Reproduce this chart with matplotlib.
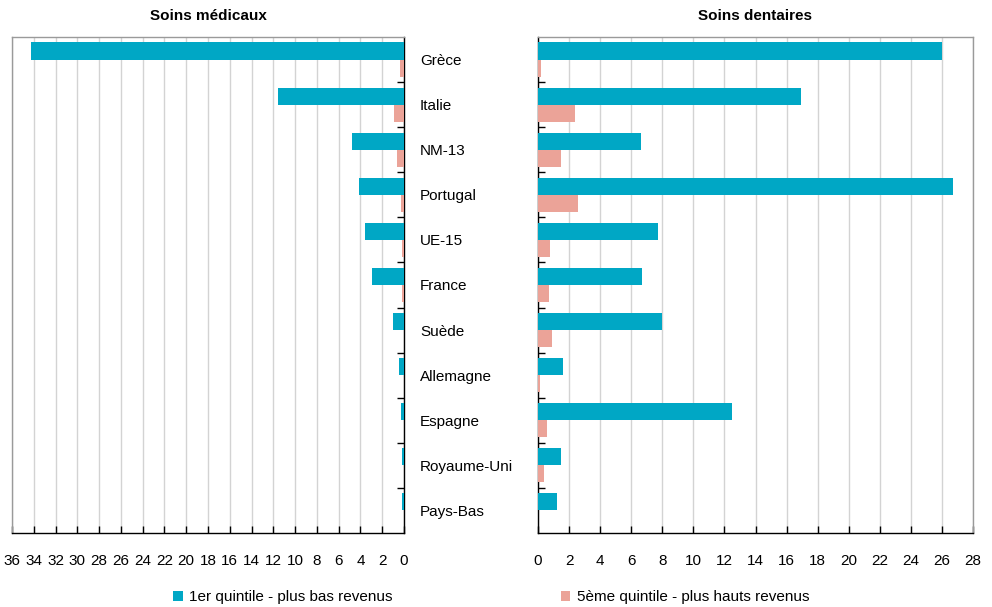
import matplotlib
matplotlib.use("Agg")
import matplotlib.pyplot as plt
from matplotlib.patches import Patch
import numpy as np

plt.rcParams['font.family'] = ['Liberation Sans', 'DejaVu Sans']

categories = ["Grèce", "Italie", "NM-13", "Portugal", "UE-15", "France",
              "Suède", "Allemagne", "Espagne", "Royaume-Uni", "Pays-Bas"]
medical_q1 = [34.3, 11.6, 4.8, 4.1, 3.6, 2.9, 1.0, 0.5, 0.3, 0.2, 0.2]
medical_q5 = [0.4, 0.9, 0.6, 0.3, 0.2, 0.2, 0.0, 0.0, 0.0, 0.0, 0.0]
dental_q1 = [26.0, 16.9, 6.6, 26.7, 7.7, 6.7, 8.0, 1.6, 12.5, 1.5, 1.2]
dental_q5 = [0.2, 2.4, 1.45, 2.6, 0.75, 0.7, 0.9, 0.1, 0.6, 0.4, 0.0]
left_ticks = list(range(0, 37, 2))
right_ticks = list(range(0, 29, 2))
titles = ["Soins médicaux", "Soins dentaires"]
legend_labels = ["1er quintile - plus bas revenus", "5ème quintile - plus hauts revenus"]

c1 = "#00A7C5"
c5 = "#EBA398"
grid_c = "#d3d3d3"
frame_gray = "#9a9a9a"
FS = 11

W, H = 992, 607
fig = plt.figure(figsize=(W / 100, H / 100), dpi=100)
ax1 = fig.add_axes([12 / W, 74 / H, (404 - 12) / W, 496 / H])
ax2 = fig.add_axes([538 / W, 74 / H, (973 - 538) / W, 496 / H])

y = np.arange(len(categories))
h = 0.38
bounds = np.arange(len(categories) - 1) + 0.5

for ax, q1, q5, ticks, title in [
    (ax1, medical_q1, medical_q5, left_ticks, titles[0]),
    (ax2, dental_q1, dental_q5, right_ticks, titles[1]),
]:
    ax.barh(y - h / 2, q1, height=h, color=c1, linewidth=0, zorder=3)
    ax.barh(y + h / 2, q5, height=h, color=c5, linewidth=0, zorder=3)
    ax.set_ylim(len(categories) - 0.5, -0.5)
    ax.set_xticks(ticks)
    ax.set_xticklabels([str(t) for t in ticks])
    ax.grid(axis="x", color=grid_c, linewidth=1.0, zorder=0)
    ax.set_axisbelow(True)
    ax.tick_params(axis="x", direction="in", length=5, width=1, pad=15, labelsize=FS, color="black")
    ax.set_title(title, fontsize=FS, fontweight="bold", pad=12)
    for s in ax.spines.values():
        s.set_linewidth(1)

ax1.set_xlim(36, 0)
ax2.set_xlim(0, 28)

# Left panel: category labels on the right side
ax1.yaxis.set_ticks_position("right")
ax1.set_yticks(y)
ax1.set_yticklabels(categories)
ax1.set_yticks(bounds, minor=True)
ax1.tick_params(axis="y", which="major", length=0, pad=11.5, labelsize=FS,
                right=True, left=False, labelright=True, labelleft=False)
for lbl in ax1.get_yticklabels():
    lbl.set_horizontalalignment("left")
ax1.tick_params(axis="y", which="minor", direction="in", length=5, width=1,
                right=True, left=False)
ax1.spines["left"].set_color(frame_gray)
ax1.spines["top"].set_color(frame_gray)
ax1.spines["right"].set_color("black")
ax1.spines["bottom"].set_color("black")

ax2.set_yticks([])
ax2.set_yticks(bounds, minor=True)
ax2.tick_params(axis="y", which="minor", direction="in", length=5, width=1,
                left=True, right=False, labelleft=False)
ax2.spines["top"].set_color(frame_gray)
ax2.spines["right"].set_color(frame_gray)
ax2.spines["left"].set_color("black")
ax2.spines["bottom"].set_color("black")

handles = [Patch(facecolor=c1, edgecolor="none"), Patch(facecolor=c5, edgecolor="none")]
fig.legend(handles, legend_labels, loc="center", bbox_to_anchor=(491 / W, 1 - 597 / H),
           ncol=2, frameon=False, fontsize=FS, handlelength=0.65, handleheight=0.65,
           handletextpad=0.4, columnspacing=11.0)

fig.savefig("out.png", dpi=100)
